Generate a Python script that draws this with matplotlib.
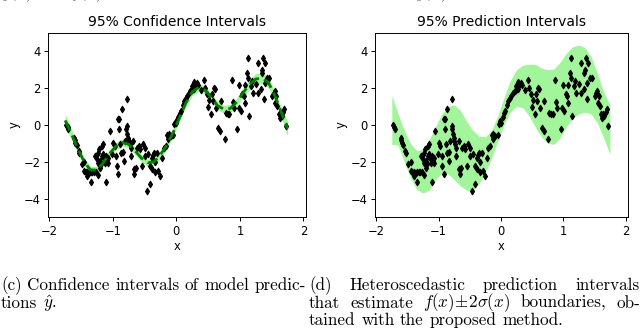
import matplotlib
matplotlib.use("Agg")
import matplotlib.pyplot as plt
import numpy as np

plt.rcParams['mathtext.fontset'] = 'cm'

# ---------------- data ----------------
grid_x = [-1.75, -1.65, -1.55, -1.45, -1.35, -1.25, -1.15, -1.05, -0.95, -0.85,
          -0.75, -0.65, -0.55, -0.45, -0.35, -0.25, -0.15, -0.05, 0.05, 0.15,
          0.25, 0.35, 0.45, 0.55, 0.65, 0.75, 0.85, 0.95, 1.05, 1.15,
          1.25, 1.35, 1.45, 1.55, 1.65, 1.75]
mean_y = [0.25, -0.5, -1.3, -2.0, -2.45, -2.45, -2.05, -1.55, -1.15, -0.95,
          -1.05, -1.4, -1.8, -2.05, -2.0, -1.6, -1.1, -0.4, 0.4, 1.2,
          1.8, 2.05, 1.9, 1.5, 1.05, 0.85, 0.9, 1.25, 1.75, 2.2,
          2.5, 2.55, 2.3, 1.6, 0.7, -0.2]
ci_half = [0.35, 0.28, 0.22, 0.2, 0.2, 0.2, 0.2, 0.2, 0.2, 0.2,
           0.2, 0.2, 0.2, 0.2, 0.2, 0.2, 0.2, 0.2, 0.2, 0.2,
           0.2, 0.22, 0.22, 0.22, 0.22, 0.22, 0.22, 0.22, 0.25, 0.28,
           0.3, 0.3, 0.28, 0.25, 0.28, 0.38]
pi_hi = [1.6, 0.6, -0.3, -1.0, -1.4, -1.3, -0.8, -0.1, 0.6, 1.0,
         1.1, 0.8, 0.2, -0.3, -0.6, -0.65, -0.3, 0.5, 1.5, 2.4,
         3.0, 3.25, 3.3, 3.3, 3.1, 3.0, 3.05, 3.4, 3.9, 4.25,
         4.35, 4.2, 3.7, 2.8, 1.8, 1.1]
pi_lo = [-1.05, -1.1, -2.0, -2.9, -3.5, -3.7, -3.55, -3.0, -2.6, -2.65,
         -2.95, -3.3, -3.55, -3.55, -3.2, -2.6, -1.8, -0.9, 0.0, 0.7,
         1.0, 0.95, 0.5, -0.1, -0.65, -1.0, -1.05, -0.7, -0.1, 0.35,
         0.6, 0.7, 0.6, 0.1, -0.7, -1.6]

pts_x = [-1.73, -1.71, -1.70, -1.61, -1.60, -1.59, -1.57, -1.54, -1.53, -1.49,
         -1.45, -1.45, -1.42, -1.40, -1.37, -1.34, -1.32, -1.40, -1.35, -1.30,
         -1.28, -1.25, -1.24, -1.23, -1.21, -1.20, -1.19, -1.17, -1.17, -1.16,
         -1.15, -1.14, -1.12, -1.11, -1.10, -1.09, -1.08, -1.07, -1.26, -1.23,
         -1.20, -1.05, -1.01, -1.00,
         -0.97, -0.95, -0.94, -0.92, -0.92, -0.90, -0.90, -0.88, -0.87, -0.86,
         -0.84, -0.83, -0.81, -0.79, -0.78, -0.78, -0.77, -0.76, -0.75, -0.73,
         -0.72, -0.72,
         -0.68, -0.67, -0.66, -0.64, -0.62, -0.59, -0.57, -0.54, -0.52, -0.50,
         -0.49, -0.46, -0.44, -0.42, -0.41,
         -0.39, -0.38, -0.37, -0.35, -0.34, -0.33, -0.31, -0.29, -0.26, -0.22,
         -0.20, -0.17, -0.15, -0.13, -0.12,
         -0.09, -0.05, -0.03, -0.01, 0.00, 0.03, 0.05, 0.07, 0.10, 0.12,
         0.15, 0.17, 0.20, 0.22, 0.24, 0.25, 0.27, 0.28, 0.29,
         0.32, 0.34, 0.39, 0.43, 0.45, 0.48, 0.50, 0.52, 0.54, 0.56,
         0.58, 0.60, 0.61, 0.62, 0.66, 0.69, 0.70,
         0.76, 0.78, 0.81, 0.83, 0.87, 0.89, 0.90, 0.96, 0.98, 0.99,
         1.02, 1.04, 1.06, 1.08, 1.08,
         1.11, 1.13, 1.13, 1.14, 1.17, 1.19, 1.20, 1.26, 1.28, 1.29,
         1.33, 1.34, 1.35, 1.36, 1.38, 1.39, 1.40,
         1.43, 1.46, 1.51, 1.53, 1.55, 1.56, 1.57, 1.59, 1.61, 1.63,
         1.64, 1.66, 1.68, 1.70, 1.72]
pts_y = [0.00, -0.09, -0.20, -0.69, -0.81, -0.96, -1.10, -1.41, -1.50, -2.13,
         -2.00, -2.49, -2.58, -2.55, -2.62, -2.53, -2.58, -2.76, -3.09, -2.55,
         -1.68, -1.86, -2.04, -1.50, -1.32, -1.95, -2.13, -1.14, -1.68, -1.05,
         -1.60, -1.77, -2.04, -3.09, -1.68, -1.95, -1.77, -2.04, -2.58, -2.73,
         -2.31, -0.32, -1.60, -0.96,
         -1.14, -1.68, -2.22, -2.67, 0.31, 0.31, -0.23, -1.05, -1.50, 0.85,
         -1.46, -1.95, -0.87, -0.23, -0.05, 1.39, -0.50, -0.69, -0.87, -1.05,
         -1.23, -1.68,
         -0.87, -2.40, -2.67, -2.31, -1.23, -1.14, -1.32, -2.22, -1.05, -1.23,
         -1.68, -3.57, -1.59, -2.22, -3.21,
         -1.77, -2.40, -1.64, -1.53, -2.00, -2.58, -1.53, -2.49, -2.76, -1.77,
         -1.23, -1.14, -0.56, -0.78, -0.50,
         -0.60, -0.56, 0.04, 0.22, 0.13, 0.45, 0.67, 0.76, 1.06, 1.30,
         1.48, 1.57, 1.75, 1.84, 1.90, 2.11, 2.33, 1.97, 2.15,
         2.29, 2.20, 1.88, 2.47, 2.02, 1.66, 0.99, 1.35, 0.58, 1.66,
         1.30, 2.02, 1.97, 0.94, -0.14, -0.32, 1.30,
         -0.78, 0.67, 0.58, 0.58, 2.47, 1.25, 0.94, -0.23, 0.94, 2.20,
         0.76, 1.66, 1.57, 1.21, 2.20,
         2.83, 3.65, 2.56, 0.49, 2.11, 2.38, 1.75, 2.24, 3.38, 1.75,
         1.93, 2.83, 3.01, 3.65, 1.39, 2.29, 3.38,
         2.56, 2.56, 1.57, 1.75, 1.84, 1.21, 1.57, 1.03, 0.58, 0.40,
         0.58, 0.49, 0.70, 0.85, -0.05]

xticks = [-2, -1, 0, 1, 2]
yticks = [-4, -2, 0, 2, 4]
titles = ["95% Confidence Intervals", "95% Prediction Intervals"]

# ---------------- figure ----------------
W, H = 640, 330
fig = plt.figure(figsize=(W / 100, H / 100), dpi=100)

def px_axes(x0, y0, x1, y1):
    return fig.add_axes([x0 / W, 1 - y1 / H, (x1 - x0) / W, (y1 - y0) / H])

ax1 = px_axes(48, 33, 306, 217)
ax2 = px_axes(375, 33, 628, 217)

band = '#a2f59b'
gx = np.array(grid_x)
m = np.array(mean_y)
c = np.array(ci_half)

ax1.fill_between(gx, m - c, m + c, color=band, lw=0, zorder=1)
ax1.plot(pts_x, pts_y, 'kd', ms=3.5, mew=0.7, zorder=2)
ax1.plot(gx, m, '--', color='#008000', lw=2.0, dashes=(4, 2), zorder=3)

ax2.fill_between(gx, pi_lo, pi_hi, color=band, lw=0, zorder=1)
ax2.plot(pts_x, pts_y, 'kd', ms=3.5, mew=0.7, zorder=2)

for ax, t in zip([ax1, ax2], titles):
    ax.set_xlim(-2.02, 2.04)
    ax.set_ylim(-5, 5)
    ax.set_xticks(xticks)
    ax.set_yticks(yticks)
    ax.tick_params(labelsize=8.3, length=3, width=0.7, pad=2.5)
    for s in ax.spines.values():
        s.set_linewidth(0.7)
    ax.set_title(t, fontsize=10, pad=5)
    ax.set_xlabel('x', fontsize=8.3, labelpad=2)
    ax.set_ylabel('y', fontsize=8.3, labelpad=2)

# ---------------- captions ----------------
renderer = fig.canvas.get_renderer()
cap_fs = 12.3

def place_line(words, x0, x1, base_y, justify=True):
    texts = []
    for w in words:
        t = fig.text(0, 1 - base_y / H, w, fontsize=cap_fs, family='cmr10',
                     va='baseline', ha='left')
        texts.append(t)
    widths = [t.get_window_extent(renderer).width for t in texts]
    if justify and len(words) > 1:
        gap = (x1 - x0 - sum(widths)) / (len(words) - 1)
    else:
        gap = cap_fs * 100 / 72 * 0.333
    x = x0
    for t, wdt in zip(texts, widths):
        t.set_x(x / W)
        x += wdt + gap

place_line("(c) Confidence intervals of model predic-".split(), 1, 306, 290)
place_line(["tions", r"$\hat{y}$."], 1, 306, 307.5, justify=False)
place_line("(d) Heteroscedastic prediction intervals".split(), 309, 640, 290)
place_line(["that", "estimate", r"$f(x)\!\pm\!2\sigma(x)$", "boundaries,", "ob-"],
           309, 640, 307.5)
place_line("tained with the proposed method.".split(), 309, 640, 325, justify=False)

# partial caption from the row above (cut off by the top edge)
fig.text(1 / W, 1 + 3 / H, r"$\hat{y}(x)$ and $f(x)$ boundaries.", fontsize=cap_fs,
         family='cmr10', va='baseline', ha='left', color='#555555')
fig.text(328 / W, 1 + 3 / H, r"around the $\hat{y}(x)\pm\epsilon$ boundaries.",
         fontsize=cap_fs, family='cmr10', va='baseline', ha='left', color='#555555')

fig.savefig('out.png', dpi=100)
